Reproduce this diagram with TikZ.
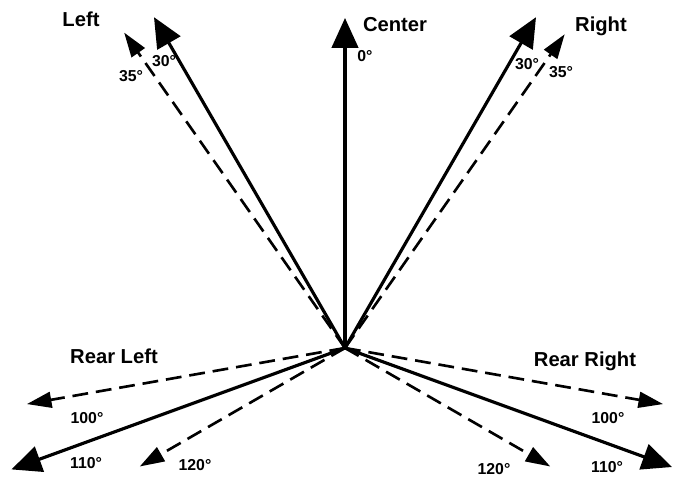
\documentclass[tikz,border=0pt]{standalone}
\usepackage{fontspec}
\setmainfont{Liberation Sans}
\usepackage{tikz}
\usetikzlibrary{arrows.meta}

\begin{document}
\begin{tikzpicture}[line join=round,x=0.02cm,y=0.02cm,
		voll/.style={line width=1.8pt,-{Triangle[length=17pt,width=15pt]}},
		gestr/.style={line width=1.5pt,dash pattern=on 9pt off 4.5pt,-{Triangle[length=14pt,width=9pt]}},
		richtung/.style={font=\bfseries\fontsize{11.5}{13}\selectfont,inner sep=0pt},
		winkel/.style={font=\bfseries\fontsize{9}{10}\selectfont,inner sep=0pt}]
		\useasboundingbox (0,0) rectangle (673,477);

		% Ursprung und Pfeilspitzen
		\coordinate (O) at (345,129);
		\begin{scope}[shift={(O)}]
			\coordinate (c0) at (90:330);
			\coordinate (l30) at (120:382);
			\coordinate (l35) at (125:385);
			\coordinate (r30) at (60:382);
			\coordinate (r35) at (55:383);
			\coordinate (hl100) at (190:323);
			\coordinate (hl110) at (200:355);
			\coordinate (hl120) at (210:237);
			\coordinate (hr100) at (-10:323);
			\coordinate (hr110) at (-20:348);
			\coordinate (hr120) at (-30:237);
		\end{scope}

		% vorne
		\draw[voll] (O) -- (c0);
		\draw[voll] (O) -- (l30);
		\draw[gestr] (O) -- (l35);
		\draw[voll] (O) -- (r30);
		\draw[gestr] (O) -- (r35);

		% hinten
		\draw[gestr] (O) -- (hl100);
		\draw[voll] (O) -- (hl110);
		\draw[gestr] (O) -- (hl120);
		\draw[gestr] (O) -- (hr100);
		\draw[voll] (O) -- (hr110);
		\draw[gestr] (O) -- (hr120);

		% Beschriftung
		\node[richtung] (left) at (81,458) {Left};
		\node[richtung] (center) at (395,452) {Center};
		\node[richtung] (right) at (601,451) {Right};
		\node[richtung] (rearleft) at (114,121) {Rear Left};
		\node[richtung] (rearright) at (585,116) {Rear Right};

		\node[winkel] (w0) at (365,421) {0°};
		\node[winkel] (wl30) at (164,416) {30°};
		\node[winkel] (wl35) at (131,401) {35°};
		\node[winkel] (wr30) at (527,413) {30°};
		\node[winkel] (wr35) at (561,405) {35°};
		\node[winkel] (wl100) at (87,59) {100°};
		\node[winkel] (wl110) at (86,14) {110°};
		\node[winkel] (wl120) at (195,12) {120°};
		\node[winkel] (wr100) at (608,59) {100°};
		\node[winkel] (wr110) at (607,10) {110°};
		\node[winkel] (wr120) at (494,8) {120°};
	\end{tikzpicture}
\end{document}
